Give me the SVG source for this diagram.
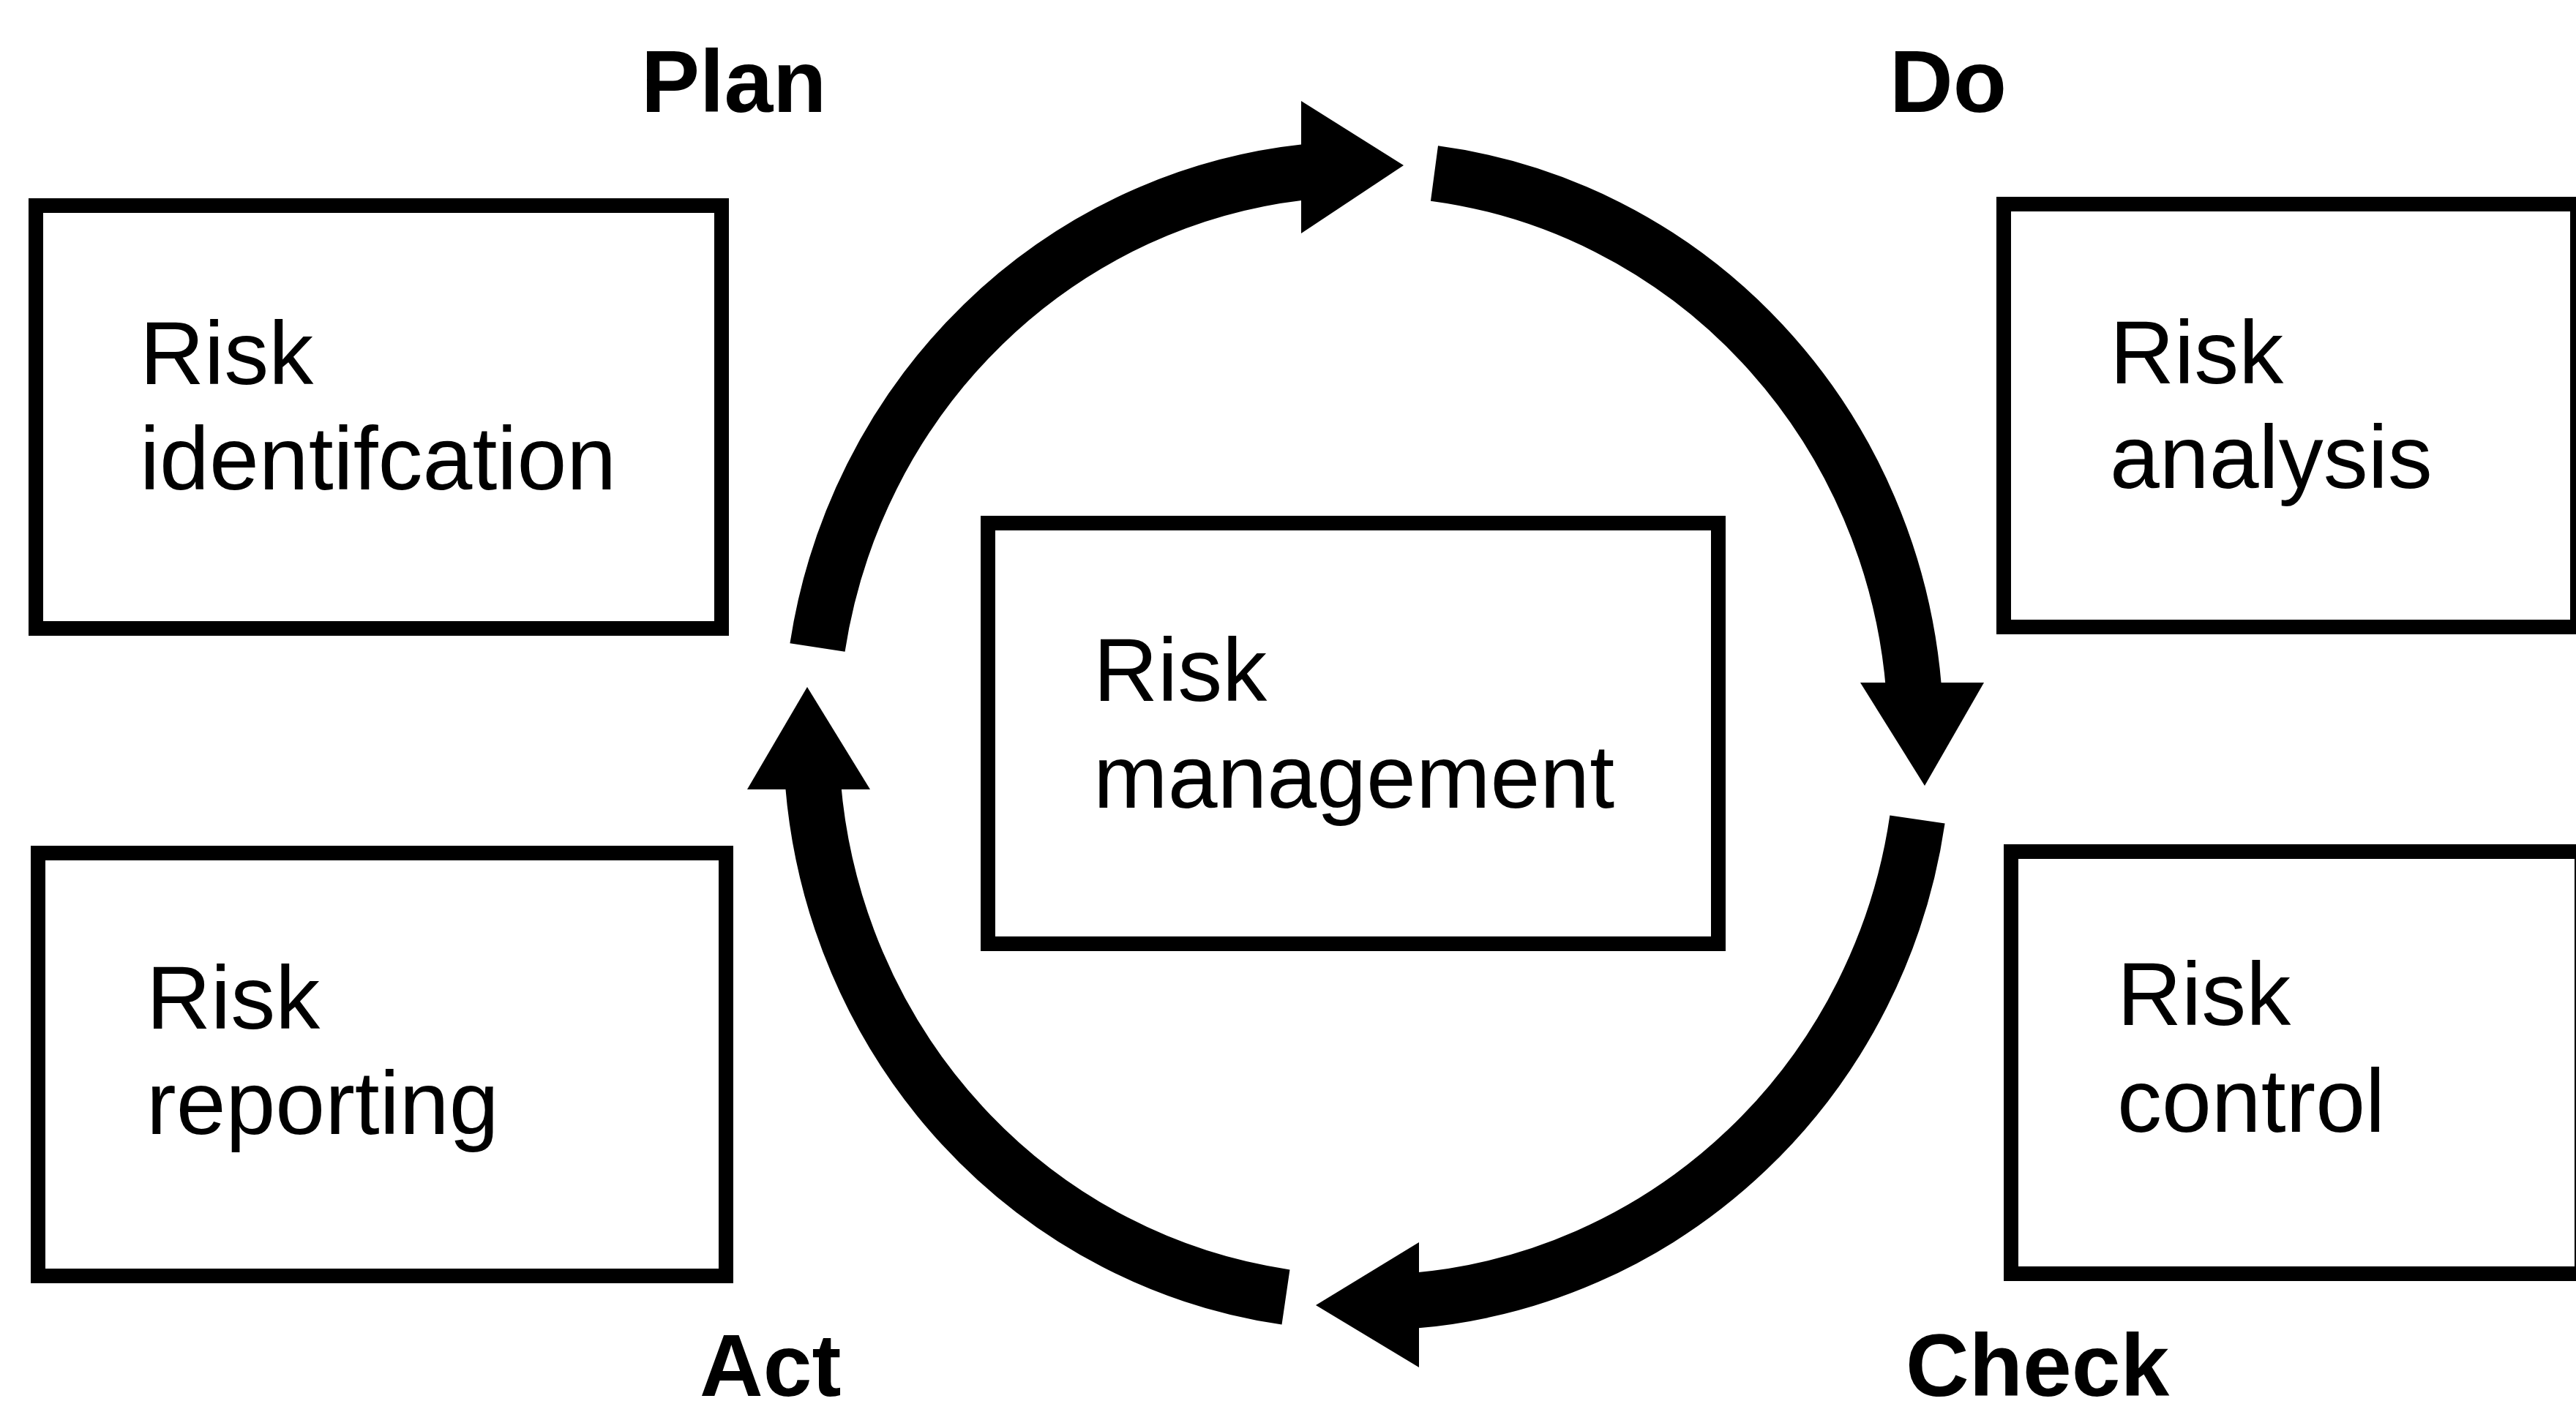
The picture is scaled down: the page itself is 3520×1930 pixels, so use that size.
<svg xmlns="http://www.w3.org/2000/svg" width="3520" height="1930" viewBox="0 0 3520 1930">
<style>
.box{fill:none;stroke:#000;stroke-width:20}
.t{font-family:"Liberation Sans",Arial,sans-serif;font-size:122px;fill:#000}
.h{font-family:"Liberation Sans",Arial,sans-serif;font-size:120px;font-weight:bold;fill:#000}
.arc{fill:none;stroke:#000;stroke-width:76;stroke-linecap:butt}
.head{fill:#000}
</style>
<rect width="3520" height="1930" fill="#fff"/>
<g id="label-plan"><text class="h" x="876" y="153">Plan</text></g>
<g id="label-do"><text class="h" x="2582" y="153">Do</text></g>
<g id="label-act"><text class="h" x="956" y="1908">Act</text></g>
<g id="label-check"><text class="h" x="2604" y="1908">Check</text></g>
<g id="node-identification">
<rect class="box" x="49" y="281" width="937" height="578"/>
<text class="t" x="191" y="525">Risk</text>
<text class="t" x="191" y="669">identifcation</text>
</g>
<g id="node-analysis">
<rect class="box" x="2738" y="279" width="784" height="578"/>
<text class="t" x="2883" y="524">Risk</text>
<text class="t" x="2883" y="667">analysis</text>
</g>
<g id="node-reporting">
<rect class="box" x="52" y="1166" width="940" height="578"/>
<text class="t" x="200" y="1406">Risk</text>
<text class="t" x="200" y="1550">reporting</text>
</g>
<g id="node-control">
<rect class="box" x="2748" y="1164" width="780" height="577"/>
<text class="t" x="2893" y="1401">Risk</text>
<text class="t" x="2893" y="1547">control</text>
</g>
<g id="node-management">
<rect class="box" x="1350" y="715" width="998" height="575"/>
<text class="t" x="1494" y="958">Risk</text>
<text class="t" x="1494" y="1104">management</text>
</g>
<g id="connectors">
<path class="arc" d="M1117,885 A755,775 0 0 1 1785,235"/>
<polygon class="head" points="1778,138 1918,226 1778,319"/>
<path class="arc" d="M1960,237 A755,775 0 0 1 2615,940"/>
<polygon class="head" points="2542,933 2711,933 2630,1074"/>
<path class="arc" d="M2620,1120 A760,775 0 0 1 1930,1778"/>
<polygon class="head" points="1939,1698 1798,1784 1939,1869"/>
<path class="arc" d="M1757,1773 A755,775 0 0 1 1111,1072"/>
<polygon class="head" points="1021,1079 1103,939 1189,1079"/>
</g>
</svg>
